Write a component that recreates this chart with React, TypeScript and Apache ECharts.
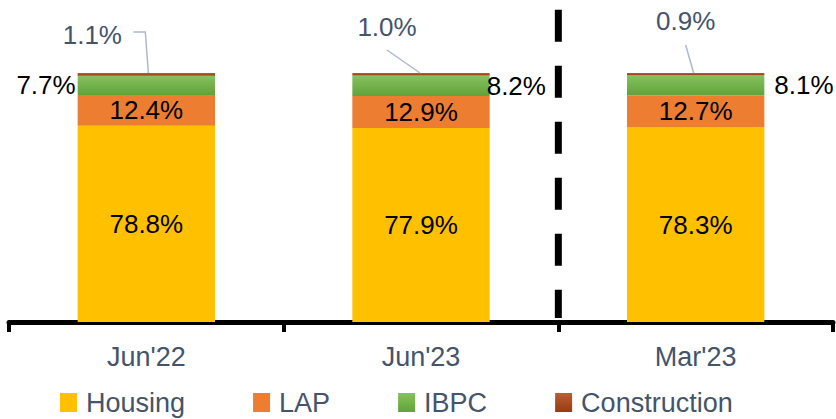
import React, { useEffect, useRef } from "react";
import * as echarts from "echarts";

const categories = ["Jun'22", "Jun'23", "Mar'23"];
const housing = [78.8, 77.9, 78.3];
const lap = [12.4, 12.9, 12.7];
const ibpc = [7.7, 8.2, 8.1];
const construction = [1.1, 1.0, 0.9];
const seriesNames = ["Housing", "LAP", "IBPC", "Construction"];
const Y_MAX = 125;
const STACK_TOP = 100;

// label placement (layout only)
const ibpcLabelPlacement = [
  { position: "left", distance: 2 },
  { position: "right", distance: -3 },
  { position: "right", distance: 10 },
];
const constructionLabelOffsets = [
  { dx: -54, dy: -38, line: [[-13, -41], [-1, -41], [2, 0]] },
  { dx: -34, dy: -46, line: [[-34, -23], [-1, 0]] },
  { dx: -10, dy: -52, line: [[-10, -28], [-2, 0]] },
];

const FONT = "Liberation Sans";
const SLATE = "#44546A";

const fmt = (p: any) => Number(p.value).toFixed(1) + "%";

export default function App() {
  const ref = useRef<HTMLDivElement>(null);
  useEffect(() => {
    if (!ref.current) return;
    const chart = echarts.init(ref.current, undefined, { renderer: "svg" });
    const green = new echarts.graphic.LinearGradient(0, 0, 0, 1, [
      { offset: 0, color: "#86C25E" },
      { offset: 1, color: "#62A23A" },
    ]);
    const brown = new echarts.graphic.LinearGradient(0, 0, 0, 1, [
      { offset: 0, color: "#B85F34" },
      { offset: 1, color: "#9A3A10" },
    ]);
    const dataLabel = {
      show: true,
      color: "#000",
      fontFamily: FONT,
      fontSize: 26,
      formatter: fmt,
    };
    const option: any = {
      animation: false,
      grid: { left: 9, right: 3, top: 10.75, bottom: 97, containLabel: false },
      legend: {
        data: seriesNames,
        left: 55,
        top: 384,
        itemWidth: 17,
        itemHeight: 19,
        itemGap: 68,
        icon: "rect",
        textStyle: { color: SLATE, fontFamily: FONT, fontSize: 27, padding: [0, 0, 0, 4] },
      },
      xAxis: {
        type: "category",
        data: categories,
        boundaryGap: true,
        axisLine: { show: true, lineStyle: { color: "#000", width: 5 } },
        axisTick: { show: true, length: 10, lineStyle: { color: "#000", width: 4 } },
        axisLabel: { color: SLATE, fontFamily: FONT, fontSize: 27, margin: 21 },
        splitLine: { show: false },
      },
      yAxis: { type: "value", min: 0, max: Y_MAX, show: false, splitLine: { show: false } },
      series: [
        {
          name: "Housing",
          type: "bar",
          stack: "total",
          barWidth: "50%",
          data: housing,
          itemStyle: { color: "#FFC000" },
          label: { ...dataLabel, position: "inside" },
        },
        {
          name: "LAP",
          type: "bar",
          stack: "total",
          data: lap,
          itemStyle: { color: "#ED7D31" },
          label: { ...dataLabel, position: "inside" },
        },
        {
          name: "IBPC",
          type: "bar",
          stack: "total",
          data: ibpc.map((v, i) => ({ value: v, label: ibpcLabelPlacement[i] })),
          itemStyle: { color: green },
          label: { ...dataLabel },
        },
        {
          name: "Construction",
          type: "bar",
          stack: "total",
          data: construction,
          itemStyle: { color: brown },
          label: { ...dataLabel, color: SLATE, position: "top" },
          labelLayout: (params: any) => {
            const o = constructionLabelOffsets[params.dataIndex];
            const r = params.rect;
            const cx = r.x + r.width / 2;
            return {
              x: cx + o.dx,
              y: r.y + o.dy,
              align: "center",
              verticalAlign: "middle",
            };
          },
        },
      ],
    };
    chart.setOption(option);

    // derived annotation graphics (from the chart's own scales)
    const graphics: any[] = [];
    categories.forEach((_, i) => {
      const [cx, top] = chart.convertToPixel({ gridIndex: 0 }, [i, STACK_TOP]) as number[];
      const o = constructionLabelOffsets[i];
      graphics.push({
        type: "polyline",
        silent: true,
        shape: { points: o.line.map((p) => [cx + p[0], top + p[1]]) },
        style: { stroke: "#ADB9CA", lineWidth: 1.5, fill: null },
        z: 10,
      });
    });
    const x1 = (chart.convertToPixel({ gridIndex: 0 }, [1, 0]) as number[])[0];
    const x2 = (chart.convertToPixel({ gridIndex: 0 }, [2, 0]) as number[])[0];
    const yTop = (chart.convertToPixel({ gridIndex: 0 }, [0, Y_MAX]) as number[])[1];
    const yBot = (chart.convertToPixel({ gridIndex: 0 }, [0, 0]) as number[])[1];
    const sx = (x1 + x2) / 2;
    graphics.push({
      type: "line",
      silent: true,
      shape: { x1: sx, y1: yTop - 1, x2: sx, y2: yBot - 4 },
      style: { stroke: "#000", lineWidth: 7, lineDash: [32, 24], lineCap: "butt" },
      z: 5,
    });
    chart.setOption({ graphic: graphics });
    return () => chart.dispose();
  }, []);
  return (
    <div
      ref={ref}
      style={{ position: "fixed", left: 0, top: 0, width: 836, height: 419, background: "#fff" }}
    />
  );
}
